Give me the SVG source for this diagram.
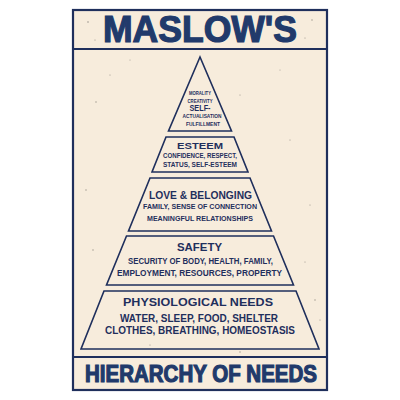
<svg xmlns="http://www.w3.org/2000/svg" width="400" height="400" viewBox="0 0 400 400">
<style>
.frame{fill:none;stroke:#1f2f5c;stroke-width:2.2}
.band{fill:none;stroke:#1f2f5c;stroke-width:1.6;stroke-linejoin:miter}
.t{font-family:"Liberation Sans",Arial,sans-serif;font-weight:bold;fill:#1f2f5c;text-anchor:middle}
.big{font-family:"Liberation Sans",Arial,sans-serif;font-weight:bold;fill:#213a6b;stroke:#213a6b;stroke-width:1.2;text-anchor:middle}
.s{fill:#2a2a2a;opacity:0.45}
</style>
<rect width="400" height="400" fill="#ffffff"/>
<rect x="73" y="10" width="254" height="380" fill="#f7ecdc"/>
<g id="speckles">
<circle class="s" cx="88" cy="22" r="0.8"/><circle class="s" cx="95" cy="40" r="0.6"/><circle class="s" cx="312" cy="20" r="0.7"/>
<circle class="s" cx="305" cy="38" r="0.6"/><circle class="s" cx="110" cy="75" r="0.6"/><circle class="s" cx="96" cy="102" r="0.7"/>
<circle class="s" cx="240" cy="95" r="0.6"/><circle class="s" cx="290" cy="140" r="0.6"/><circle class="s" cx="86" cy="190" r="0.7"/>
<circle class="s" cx="310" cy="205" r="0.6"/><circle class="s" cx="93" cy="250" r="0.7"/><circle class="s" cx="305" cy="262" r="0.6"/>
<circle class="s" cx="315" cy="300" r="0.7"/><circle class="s" cx="320" cy="320" r="0.6"/><circle class="s" cx="150" cy="345" r="0.6"/>
<circle class="s" cx="240" cy="352" r="0.7"/><circle class="s" cx="130" cy="60" r="0.5"/><circle class="s" cx="280" cy="70" r="0.5"/>
</g>
<g id="frame">
<rect class="frame" x="73" y="10" width="254" height="380"/>
<line class="frame" x1="73" y1="49" x2="327" y2="49" stroke-width="2.6"/>
<line class="frame" x1="73" y1="357" x2="327" y2="357" stroke-width="2.6"/>
</g>
<g id="title">
<text class="big" x="200" y="41.5" font-size="36" textLength="194" lengthAdjust="spacingAndGlyphs">MASLOW'S</text>
</g>
<g id="footer">
<text class="big" x="201" y="381.5" font-size="23" stroke-width="0.9" textLength="232" lengthAdjust="spacingAndGlyphs">HIERARCHY OF NEEDS</text>
</g>
<g id="self-actualisation">
<polygon class="band" points="200,57 168.5,131 231.5,131"/>
<text class="t" x="200" y="95.3" font-size="5.6" textLength="22" lengthAdjust="spacingAndGlyphs">MORALITY</text>
<text class="t" x="200" y="102.7" font-size="5.6" textLength="25" lengthAdjust="spacingAndGlyphs">CREATIVITY</text>
<text class="t" x="200" y="111" font-size="8.5" textLength="21" lengthAdjust="spacingAndGlyphs">SELF-</text>
<text class="t" x="202" y="118" font-size="5.6" textLength="39" lengthAdjust="spacingAndGlyphs">ACTUALISATION</text>
<text class="t" x="203" y="126" font-size="5.6" textLength="34" lengthAdjust="spacingAndGlyphs">FULFILLMENT</text>
</g>
<g id="esteem">
<polygon class="band" points="166,137 234,137 248,172 152,172"/>
<text class="t" x="200" y="148.7" font-size="9.5" textLength="46" lengthAdjust="spacingAndGlyphs">ESTEEM</text>
<text class="t" x="200" y="157.7" font-size="7" textLength="74" lengthAdjust="spacingAndGlyphs">CONFIDENCE, RESPECT,</text>
<text class="t" x="200" y="166.7" font-size="7" textLength="74" lengthAdjust="spacingAndGlyphs">STATUS, SELF-ESTEEM</text>
</g>
<g id="love-belonging">
<polygon class="band" points="150,178 250,178 271.5,231 128.5,231"/>
<text class="t" x="200.5" y="199" font-size="10.5" textLength="103" lengthAdjust="spacingAndGlyphs">LOVE &amp; BELONGING</text>
<text class="t" x="200" y="209" font-size="8" textLength="114" lengthAdjust="spacingAndGlyphs">FAMILY, SENSE OF CONNECTION</text>
<text class="t" x="200" y="221" font-size="8" textLength="106" lengthAdjust="spacingAndGlyphs">MEANINGFUL RELATIONSHIPS</text>
</g>
<g id="safety">
<polygon class="band" points="126.5,236 273.5,236 293.5,285 106.5,285"/>
<text class="t" x="199.5" y="251" font-size="11" textLength="45" lengthAdjust="spacingAndGlyphs">SAFETY</text>
<text class="t" x="200.5" y="264" font-size="8.8" textLength="145" lengthAdjust="spacingAndGlyphs">SECURITY OF BODY, HEALTH, FAMILY,</text>
<text class="t" x="199.5" y="276" font-size="8.8" textLength="165" lengthAdjust="spacingAndGlyphs">EMPLOYMENT, RESOURCES, PROPERTY</text>
</g>
<g id="physiological">
<polygon class="band" points="104,291 296,291 319,349 81,349"/>
<text class="t" x="198" y="306" font-size="11.2" textLength="150" lengthAdjust="spacingAndGlyphs">PHYSIOLOGICAL NEEDS</text>
<text class="t" x="199" y="322" font-size="11" textLength="158" lengthAdjust="spacingAndGlyphs">WATER, SLEEP, FOOD, SHELTER</text>
<text class="t" x="200" y="334" font-size="11" textLength="190" lengthAdjust="spacingAndGlyphs">CLOTHES, BREATHING, HOMEOSTASIS</text>
</g>
</svg>
